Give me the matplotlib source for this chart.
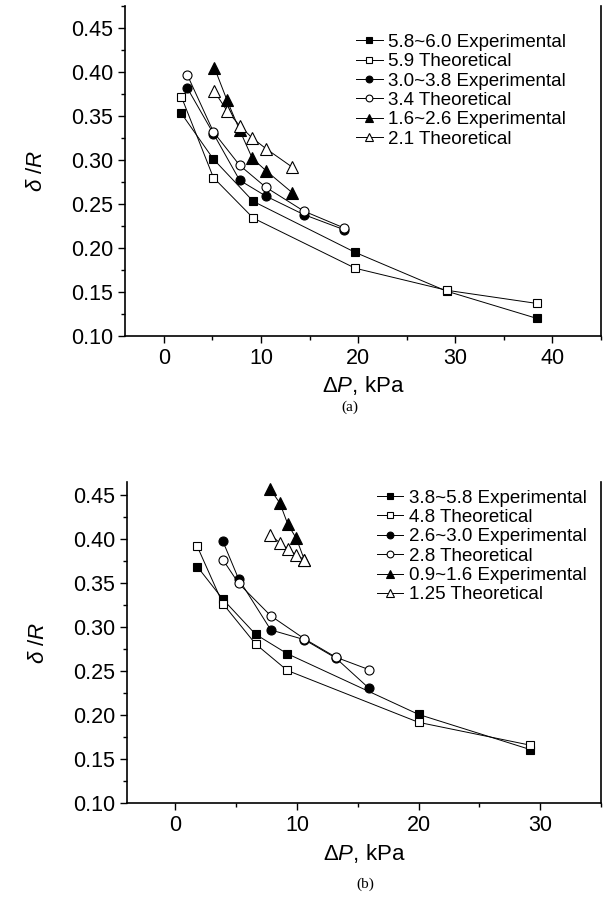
import matplotlib
matplotlib.use("Agg")
import matplotlib.pyplot as plt
from matplotlib.ticker import MultipleLocator

plt.rcParams["font.family"] = ["Liberation Sans", "DejaVu Sans"]
plt.rcParams["mathtext.fontset"] = "custom"
plt.rcParams["mathtext.rm"] = "Liberation Sans"
plt.rcParams["mathtext.it"] = "Liberation Sans:italic"

# panel (a)
a_sq_x = [1.8, 5.1, 9.2, 19.7, 29.1, 38.4]
a_exp1 = [0.353, 0.301, 0.253, 0.195, 0.151, 0.120]
a_theo1 = [0.372, 0.280, 0.234, 0.177, 0.152, 0.137]
a_ci_x = [2.4, 5.1, 7.8, 10.5, 14.4, 18.5]
a_exp2 = [0.382, 0.330, 0.277, 0.259, 0.238, 0.221]
a_theo2 = [0.397, 0.332, 0.294, 0.269, 0.242, 0.223]
a_tri_x = [5.2, 6.5, 7.8, 9.1, 10.5, 13.2]
a_exp3 = [0.405, 0.368, 0.334, 0.302, 0.288, 0.263]
a_theo3 = [0.378, 0.356, 0.339, 0.325, 0.313, 0.292]
a_labels = ["5.8~6.0 Experimental", "5.9 Theoretical",
            "3.0~3.8 Experimental", "3.4 Theoretical",
            "1.6~2.6 Experimental", "2.1 Theoretical"]

# panel (b)
b_sq_x = [1.8, 3.9, 6.6, 9.2, 20.0, 29.2]
b_exp1 = [0.369, 0.332, 0.292, 0.270, 0.201, 0.161]
b_theo1 = [0.392, 0.327, 0.281, 0.251, 0.192, 0.166]
b_ci_x = [3.9, 5.2, 7.85, 10.6, 13.2, 15.9]
b_exp2 = [0.398, 0.355, 0.297, 0.286, 0.265, 0.231]
b_theo2 = [0.377, 0.350, 0.313, 0.287, 0.266, 0.252]
b_tri_x = [7.8, 8.6, 9.25, 9.95, 10.6]
b_exp3 = [0.457, 0.441, 0.417, 0.401, 0.377]
b_theo3 = [0.405, 0.396, 0.389, 0.382, 0.377]
b_labels = ["3.8~5.8 Experimental", "4.8 Theoretical",
            "2.6~3.0 Experimental", "2.8 Theoretical",
            "0.9~1.6 Experimental", "1.25 Theoretical"]

styles = [("s", "k", 6), ("s", "w", 6), ("o", "k", 6.5),
          ("o", "w", 6.5), ("^", "k", 8), ("^", "w", 8)]


def draw_panel(ax, series, labels, xlim, ytop, leg_x, leg_y):
    for (x, y), (m, fc, ms), lab in zip(series, styles, labels):
        ax.plot(x, y, color="k", lw=0.7, marker=m, ms=ms, mfc=fc,
                mec="k", mew=0.8, label=lab)
    ax.set_xlim(*xlim)
    ax.set_ylim(0.10, ytop)
    ax.xaxis.set_major_locator(MultipleLocator(10))
    ax.xaxis.set_minor_locator(MultipleLocator(5))
    ax.yaxis.set_major_locator(MultipleLocator(0.05))
    ax.yaxis.set_minor_locator(MultipleLocator(0.025))
    ax.yaxis.set_major_formatter(plt.FormatStrFormatter("%.2f"))
    ax.tick_params(which="both", direction="out", top=False, right=False,
                   labelsize=15.5, width=1)
    ax.tick_params(which="major", length=5)
    ax.tick_params(which="minor", length=3)
    for s in ax.spines.values():
        s.set_linewidth(1.2)
    ax.spines["top"].set_visible(False)
    ax.set_xlabel(r"$\mathit{\Delta P}$, kPa", fontsize=16, labelpad=4)
    ax.set_ylabel(r"$\delta\ /R$", fontsize=16, labelpad=17)
    ax.legend(loc="upper left", bbox_to_anchor=(leg_x, leg_y), frameon=False,
              fontsize=13.5, borderpad=0, borderaxespad=0, handlelength=1.4,
              handletextpad=0.3, labelspacing=0.12, numpoints=1,
              markerscale=0.75)


fig = plt.figure(figsize=(6.03, 9.10), dpi=100)
# top panel: y=0.10 at 336 px, 880 px per unit
ax1 = fig.add_axes([125 / 603, 1 - 336 / 910, 476 / 603, 0.375 * 880 / 910])
ax2 = fig.add_axes([126.7 / 603, 1 - 803.3 / 910, 474.3 / 603,
                    0.365 * 880 / 910])

draw_panel(ax1, [(a_sq_x, a_exp1), (a_sq_x, a_theo1), (a_ci_x, a_exp2),
                 (a_ci_x, a_theo2), (a_tri_x, a_exp3), (a_tri_x, a_theo3)],
           a_labels, (-4, 45), 0.475, 0.486, 0.916)
draw_panel(ax2, [(b_sq_x, b_exp1), (b_sq_x, b_theo1), (b_ci_x, b_exp2),
                 (b_ci_x, b_theo2), (b_tri_x, b_exp3), (b_tri_x, b_theo3)],
           b_labels, (-4, 35), 0.465, 0.528, 0.977)

fig.text(350 / 603, 1 - 407 / 910, "(a)", ha="center", va="center",
         fontsize=11, family="Liberation Serif")
fig.text(365 / 603, 1 - 884 / 910, "(b)", ha="center", va="center",
         fontsize=11, family="Liberation Serif")

fig.savefig("out.png", dpi=100)
